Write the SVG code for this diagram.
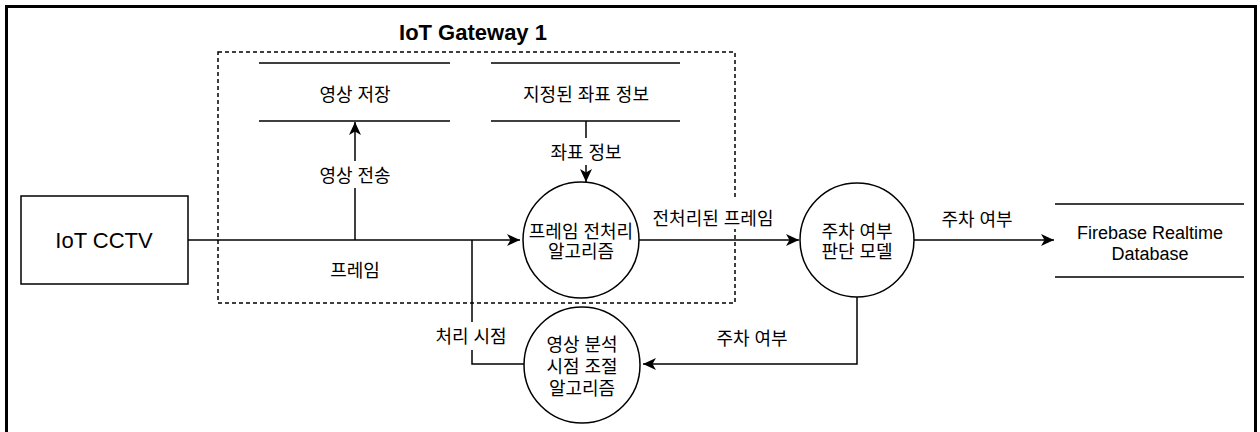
<svg xmlns="http://www.w3.org/2000/svg" width="1260" height="432" viewBox="0 0 1260 432">
<style>
text{font-family:"Liberation Sans","Noto Sans CJK KR",sans-serif;fill:#000;text-anchor:middle}
.k{font-size:18px}
.l{font-size:18px}
.c{fill:#fff;stroke:#000;stroke-width:1.5}
.s{stroke:#000;stroke-width:1.5;fill:none}
.ds{stroke:#000;stroke-width:1.5;fill:none;stroke-dasharray:4 3}
.bg{fill:#fff}
</style>
<defs>
<marker id="ah" markerUnits="userSpaceOnUse" markerWidth="14" markerHeight="14" refX="13" refY="6" orient="auto">
<path d="M0,0 L13,6 L0,12 L3.5,6 Z" fill="#000"/>
</marker>
</defs>
<rect x="6.5" y="6.5" width="1249" height="440" fill="#fff" stroke="#000" stroke-width="3"/>
<g id="gateway">
<rect x="218" y="52" width="517" height="251" class="ds"/>
<text x="473" y="40" style="font-size:22px;font-weight:bold">IoT Gateway 1</text>
</g>
<g id="connectors">
<path class="s" d="M188,240 H520" marker-end="url(#ah)"/>
<path class="s" d="M355,240 V122" marker-end="url(#ah)"/>
<path class="s" d="M586,121 V182" marker-end="url(#ah)"/>
<path class="s" d="M639,240 H799" marker-end="url(#ah)"/>
<path class="s" d="M914,240 H1054" marker-end="url(#ah)"/>
<path class="s" d="M857,297 V364 H643" marker-end="url(#ah)"/>
<path class="s" d="M524,364 H472 V240"/>
<rect class="bg" x="300" y="161" width="109" height="27"/>
<text class="k" x="355" y="181.5">영상 전송</text>
<rect class="bg" x="535" y="138" width="111" height="27"/>
<text class="k" x="586" y="159">좌표 정보</text>
<text class="k" x="355" y="277">프레임</text>
<rect class="bg" x="647" y="200" width="151" height="29"/>
<text class="k" x="713" y="224.5">전처리된 프레임</text>
<text class="k" x="977" y="225.5">주차 여부</text>
<text class="k" x="752" y="345">주차 여부</text>
<rect class="bg" x="425" y="322" width="92" height="28"/>
<text class="k" x="471" y="343">처리 시점</text>
</g>
<g id="cctv">
<rect x="21" y="196" width="167" height="88" class="c"/>
<text x="104" y="248" style="font-size:22px">IoT CCTV</text>
</g>
<g id="store-video">
<path class="s" d="M259,63 H450 M259,121 H450"/>
<text class="k" x="355" y="101">영상 저장</text>
</g>
<g id="store-coords">
<path class="s" d="M491,63 H680 M491,121 H680"/>
<text class="k" x="586" y="101">지정된 좌표 정보</text>
</g>
<g id="preprocess">
<circle cx="581" cy="240" r="58" class="c"/>
<text class="k" x="581" y="238">프레임 전처리</text>
<text class="k" x="581" y="258">알고리즘</text>
</g>
<g id="parking-model">
<circle cx="857" cy="240" r="57" class="c"/>
<text class="k" x="857" y="237.5">주차 여부</text>
<text class="k" x="857" y="258">판단 모델</text>
</g>
<g id="timing">
<circle cx="582" cy="365" r="58" class="c"/>
<text class="k" x="582" y="350.5">영상 분석</text>
<text class="k" x="582" y="373">시점 조절</text>
<text class="k" x="582" y="395">알고리즘</text>
</g>
<g id="firebase">
<path class="s" d="M1055,204 H1244 M1055,277 H1244"/>
<text class="l" x="1150" y="238.5">Firebase Realtime</text>
<text class="l" x="1150" y="260">Database</text>
</g>
</svg>
